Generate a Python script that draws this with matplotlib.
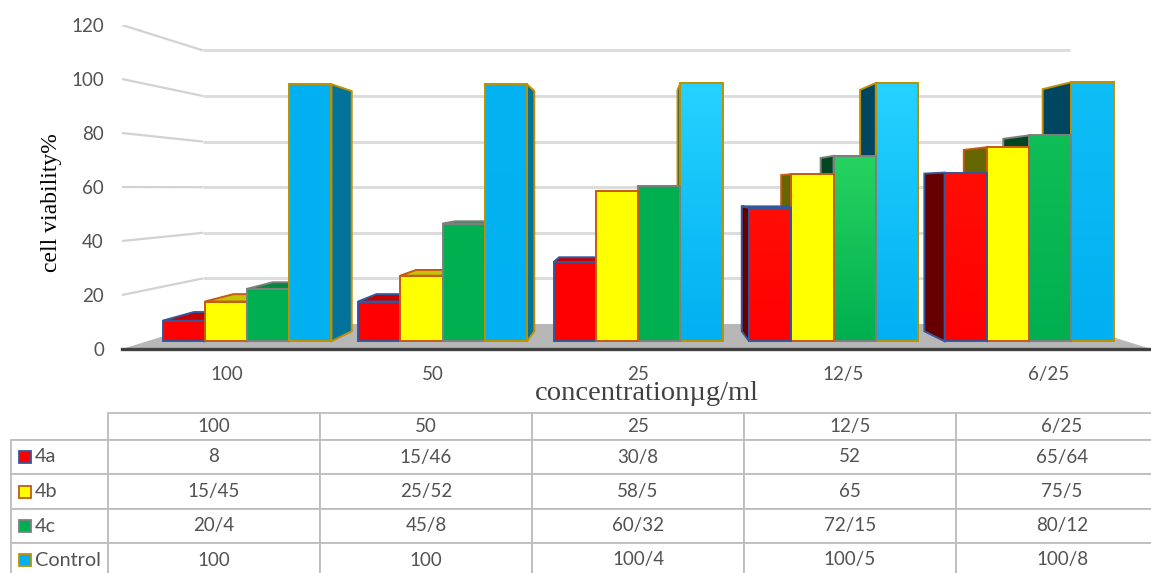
import numpy as np
import matplotlib
matplotlib.use("Agg")
import matplotlib.pyplot as plt
from matplotlib.patches import Polygon, Rectangle

# Table contents: the slash is the decimal separator used in the source data
categories = ["100", "50", "25", "12/5", "6/25"]
series_names = ["4a", "4b", "4c", "Control"]
values_4a = ["8", "15/46", "30/8", "52", "65/64"]
values_4b = ["15/45", "25/52", "58/5", "65", "75/5"]
values_4c = ["20/4", "45/8", "60/32", "72/15", "80/12"]
values_control = ["100", "100", "100/4", "100/5", "100/8"]
y_ticks = [0, 20, 40, 60, 80, 100, 120]
x_title = "concentrationµg/ml"
y_title = "cell viability%"

face_colors = ["#FF0000", "#FFFF00", "#00B050", "#00B0F0"]
edge_colors = ["#34589C", "#C55A11", "#7F7F7F", "#BF9000"]
# Strength of the top highlight per series (rows) and group (columns)
gradient_lift = [[0.0, 0.0, 0.0, 0.4, 0.4],
                 [0.0, 0.0, 0.0, 0.0, 0.0],
                 [0.0, 0.0, 0.0, 1.0, 0.4],
                 [0.0, 0.1, 1.0, 1.0, 0.4]]
GRAY_TEXT = "#525252"
SANS = "Lato"
SERIF = "Liberation Serif"

W, H = 1151, 573
fig = plt.figure(figsize=(W / 100, H / 100), dpi=100)


def axes_from_pixels(x0, y0, x1, y1):
    return fig.add_axes([x0 / W, 1 - y1 / H, (x1 - x0) / W, (y1 - y0) / H])


# Chart axes: x in category units, y in percent on the front plane of the box
ax = axes_from_pixels(122, 25, 1151, 349)
ax.set_xlim(-0.511, 4.496)
ax.set_ylim(0, 120)
ax.patch.set_visible(False)

CENTER = 2.0
X_SHRINK, Y_SHRINK, FLOOR_RISE = 0.157, 0.1556, 9.26
BAR_W = 0.216
NEAR, FAR = 0.31, 0.71


def project(x, v, d):
    """Perspective position of (category x, value v) at box depth d in [0, 1]."""
    return CENTER + (x - CENTER) * (1 - X_SHRINK * d), FLOOR_RISE * d + v * (1 - Y_SHRINK * d)


def to_number(label):
    return float(label.replace("/", "."))


def shade(color, k):
    return tuple(k * c for c in matplotlib.colors.to_rgb(color))


x_left, x_right = ax.get_xlim()

# Floor of the box
ax.add_patch(Polygon([project(x_left, 0, 0), project(x_left, 0, 1),
                      project(x_right, 0, 1), project(x_right, 0, 0)],
                     facecolor="#B7B7B7", edgecolor="none", zorder=1))

# Wall gridlines
for tick in y_ticks[1:]:
    corner = project(x_left, tick, 1)
    front = project(x_left, tick, 0)
    end = project(x_right, tick, 1)
    ax.plot([front[0], corner[0]], [front[1], corner[1]], color="#D2D2D2", lw=1.6,
            zorder=1, solid_capstyle="butt")
    ax.plot([corner[0], end[0]], [corner[1], end[1]], color="#DCDCDC", lw=2.1,
            zorder=1, solid_capstyle="butt")

# Bars, furthest from the vanishing line first so nearer faces overlap them
table_rows = [values_4a, values_4b, values_4c, values_control]
bars = []
for g in range(len(categories)):
    for s in range(len(series_names)):
        left = g + (s - 2) * BAR_W
        bars.append((abs(left + BAR_W / 2 - CENTER), g, s, left, to_number(table_rows[s][g])))
bars.sort(key=lambda b: -b[0])

zorder = 2
for _, g, s, left, value in bars:
    right = left + BAR_W
    face, edge = face_colors[s], edge_colors[s]
    patch_style = dict(edgecolor=edge, linewidth=1.4, joinstyle="miter")

    # Side wall facing the centre of the chart
    if right <= CENTER or left >= CENTER:
        sx = right if right <= CENTER else left
        side_k = 0.65 if g < 2 else 0.4
        pts = [project(sx, 0, NEAR), project(sx, value, NEAR),
               project(sx, value, FAR), project(sx, 0, FAR)]
        ax.add_patch(Polygon(pts, facecolor=shade(face, side_k), zorder=zorder, **patch_style))

    # Top cap, only visible below eye level
    if project(left, value, FAR)[1] > project(left, value, NEAR)[1]:
        pts = [project(left, value, NEAR), project(right, value, NEAR),
               project(right, value, FAR), project(left, value, FAR)]
        ax.add_patch(Polygon(pts, facecolor=shade(face, 0.77), zorder=zorder + 0.1, **patch_style))

    # Front face with a faint vertical gradient
    x0, y0 = project(left, 0, NEAR)
    x1, y1 = project(right, value, NEAR)
    base = np.array(matplotlib.colors.to_rgb(face))
    lift = gradient_lift[s][g] * np.array([38, 34, 15]) / 255
    top = np.clip(base + lift, 0, 1)
    ramp = np.linspace(top, base, 64).reshape(64, 1, 3)
    ax.imshow(ramp, extent=(x0, x1, y0, y1), aspect="auto", origin="upper",
              interpolation="bilinear", zorder=zorder + 0.2)
    ax.add_patch(Rectangle((x0, y0), x1 - x0, y1 - y0, facecolor="none",
                           zorder=zorder + 0.3, **patch_style))
    zorder += 1

ax.set_xlim(x_left, x_right)
ax.set_ylim(0, 120)

# Axes decoration
for name in ("top", "left", "right"):
    ax.spines[name].set_visible(False)
ax.spines["bottom"].set_color("#404040")
ax.spines["bottom"].set_linewidth(2.4)
ax.spines["bottom"].set_zorder(zorder + 1)
ax.set_xticks(range(len(categories)), categories)
ax.set_yticks(y_ticks)
ax.tick_params(axis="both", length=0, labelsize=13.5, labelcolor=GRAY_TEXT)
ax.tick_params(axis="y", pad=13)
ax.tick_params(axis="x", pad=12)
for label in ax.get_xticklabels() + ax.get_yticklabels():
    label.set_fontfamily(SANS)

fig.text(52 / W, 1 - 203 / H, y_title, rotation=90, ha="center", va="center",
         family=SERIF, fontsize=17, color="black")
fig.text(647 / W, 1 - 393 / H, x_title, ha="center", va="center",
         family=SERIF, fontsize=20.5, color="#404040")

# Data table with legend keys; it runs past the right and bottom of the figure
tax = axes_from_pixels(11, 413, 1168, 577)
tax.set_xlim(11, 1168)
tax.set_ylim(577, 413)
tax.axis("off")

col_widths = [97, 212, 212, 212, 212, 212]
row_heights = [27, 34, 35, 34, 34]
cells = [[""] + categories] + [[name] + row for name, row in zip(series_names, table_rows)]
table = tax.table(cellText=cells, colWidths=[w / sum(col_widths) for w in col_widths],
                  cellLoc="center", bbox=[0, 0, 1, 1])
table.auto_set_font_size(False)
table.set_fontsize(13.5)
for (r, c), cell in table.get_celld().items():
    cell.set_height(row_heights[r] / sum(row_heights))
    cell.set_edgecolor("#BDBDBD")
    cell.set_linewidth(1.3)
    cell.get_text().set_color(GRAY_TEXT)
    cell.get_text().set_fontfamily(SANS)
    if c == 0:
        cell.set_text_props(ha="left")
        cell.get_text().set_fontsize(14.3)
        cell.PAD = 0.25
    if r == 0 and c == 0:
        cell.visible_edges = "BR"

row_tops = np.cumsum([413] + row_heights)
for s in range(len(series_names)):
    centre = (row_tops[s + 1] + row_tops[s + 2]) / 2
    tax.add_patch(Rectangle((18.5, centre - 6), 12, 12, facecolor=face_colors[s],
                            edgecolor=edge_colors[s], linewidth=1.3, zorder=10))

fig.savefig("out.png", dpi=100)
